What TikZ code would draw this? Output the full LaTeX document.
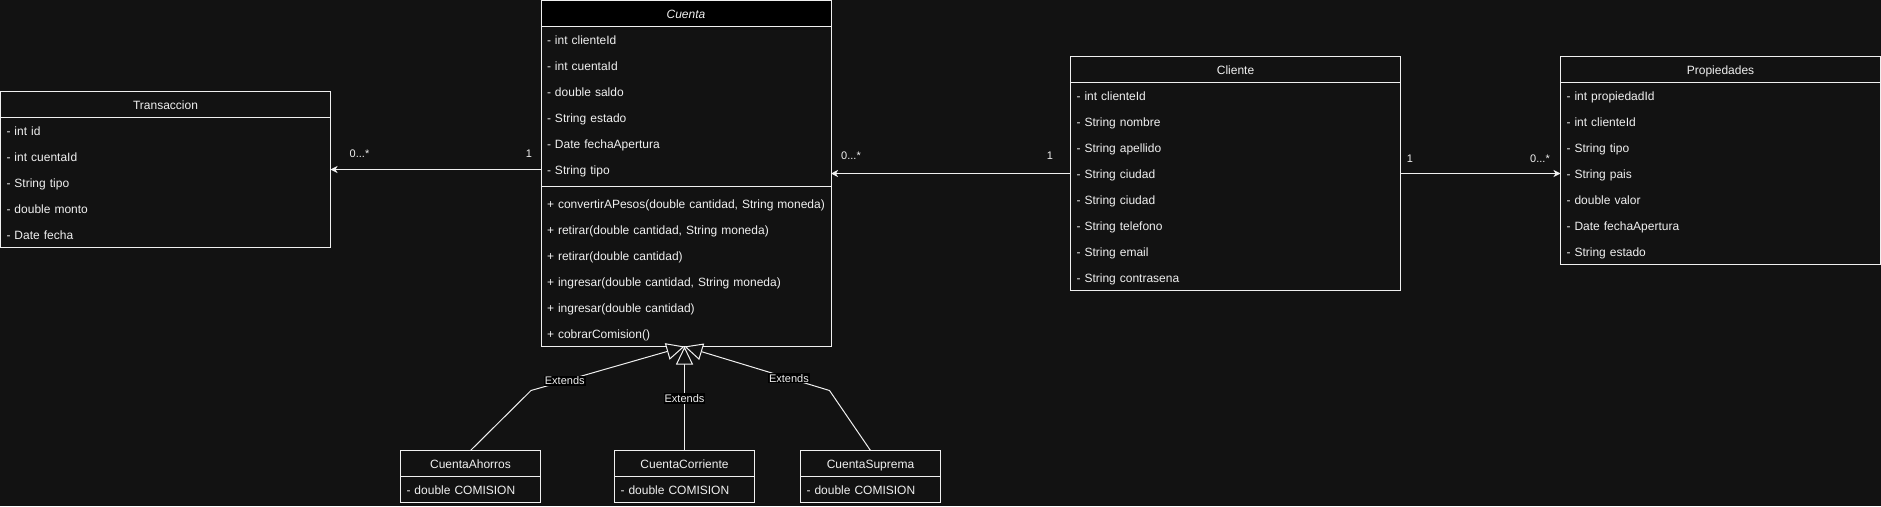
\documentclass[tikz,border=0pt]{standalone}
\usepackage{fontspec}
\setmainfont{Liberation Sans}
\usetikzlibrary{arrows.meta,calc}
\definecolor{bg}{HTML}{121212}
\definecolor{fg}{HTML}{F0F0F0}
\begin{document}
\begin{tikzpicture}[x=1pt,y=-1pt,
  every node/.style={outer sep=0pt, text=fg},
  hdr/.style={draw=fg, line width=1pt, anchor=north west, minimum height=26pt, inner sep=0pt,
    font=\fontsize{12}{14}\selectfont, text height=9.6pt, text depth=0pt},
  row/.style={anchor=north west, minimum height=26pt, inner xsep=6pt, inner ysep=0pt,
    text width=#1, align=left, font=\fontsize{12}{14}\selectfont, text height=9.6pt, text depth=0pt},
  sepr/.style={anchor=north west, minimum height=8pt, inner sep=0pt, minimum width=#1},
  body/.style={draw=fg, line width=1pt},
  assoc/.style={draw=fg, line width=1pt, -{Stealth[length=7pt,width=7pt,inset=2pt]}},
  gen/.style={draw=fg, line width=1pt, line join=miter, -{Triangle[length=18pt,width=17pt,fill=bg]}},
  ext/.style={fill=black, inner xsep=1pt, inner ysep=1pt, font=\fontsize{11}{13}\selectfont},
  mult/.style={font=\fontsize{11}{13}\selectfont, inner sep=0pt}
]
\fill[bg] (0,0) rectangle (1881,506);
\useasboundingbox (0,0) rectangle (1881,506);

% ---------- Transaccion ----------
\node[hdr, minimum width=330pt, fill=bg] (trans) at (0.5,91.5) {Transaccion};
\node[row=318pt] (t1) at (trans.south west) {- int id};
\node[row=318pt] (t2) at (t1.south west) {- int cuentaId};
\node[row=318pt] (t3) at (t2.south west) {- String tipo};
\node[row=318pt] (t4) at (t3.south west) {- double monto};
\node[row=318pt] (t5) at (t4.south west) {- Date fecha};
\draw[body] (trans.south west) rectangle (t5.south east);

% ---------- Cuenta ----------
\node[hdr, minimum width=290pt, fill=black] (cuenta) at (541,0.5) {\itshape Cuenta};
\node[row=278pt] (c1) at (cuenta.south west) {- int clienteId};
\node[row=278pt] (c2) at (c1.south west) {- int cuentaId};
\node[row=278pt] (c3) at (c2.south west) {- double saldo};
\node[row=278pt] (c4) at (c3.south west) {- String estado};
\node[row=278pt] (c5) at (c4.south west) {- Date fechaApertura};
\node[row=278pt] (c6) at (c5.south west) {- String tipo};
\node[sepr=290pt] (csep) at (c6.south west) {};
\node[row=278pt] (m1) at (csep.south west) {+ convertirAPesos(double cantidad, String moneda)};
\node[row=278pt] (m2) at (m1.south west) {+ retirar(double cantidad, String moneda)};
\node[row=278pt] (m3) at (m2.south west) {+ retirar(double cantidad)};
\node[row=278pt] (m4) at (m3.south west) {+ ingresar(double cantidad, String moneda)};
\node[row=278pt] (m5) at (m4.south west) {+ ingresar(double cantidad)};
\node[row=278pt] (m6) at (m5.south west) {+ cobrarComision()};
\draw[body] (cuenta.south west) rectangle (m6.south east);
\draw[body] (csep.west) -- (csep.east);

% ---------- Cliente ----------
\node[hdr, minimum width=330pt, fill=bg] (cliente) at (1070.5,56.5) {Cliente};
\node[row=318pt] (l1) at (cliente.south west) {- int clienteId};
\node[row=318pt] (l2) at (l1.south west) {- String nombre};
\node[row=318pt] (l3) at (l2.south west) {- String apellido};
\node[row=318pt] (l4) at (l3.south west) {- String ciudad};
\node[row=318pt] (l5) at (l4.south west) {- String ciudad};
\node[row=318pt] (l6) at (l5.south west) {- String telefono};
\node[row=318pt] (l7) at (l6.south west) {- String email};
\node[row=318pt] (l8) at (l7.south west) {- String contrasena};
\draw[body] (cliente.south west) rectangle (l8.south east);

% ---------- Propiedades ----------
\node[hdr, minimum width=320pt, fill=bg] (prop) at (1560.5,56.5) {Propiedades};
\node[row=308pt] (p1) at (prop.south west) {- int propiedadId};
\node[row=308pt] (p2) at (p1.south west) {- int clienteId};
\node[row=308pt] (p3) at (p2.south west) {- String tipo};
\node[row=308pt] (p4) at (p3.south west) {- String pais};
\node[row=308pt] (p5) at (p4.south west) {- double valor};
\node[row=308pt] (p6) at (p5.south west) {- Date fechaApertura};
\node[row=308pt] (p7) at (p6.south west) {- String estado};
\draw[body] (prop.south west) rectangle (p7.south east);

% ---------- Subclasses ----------
\node[hdr, minimum width=140pt, fill=bg] (cah) at (400.5,450.5) {CuentaAhorros};
\node[row=128pt] (cah1) at (cah.south west) {- double COMISION};
\draw[body] (cah.south west) rectangle (cah1.south east);

\node[hdr, minimum width=140pt, fill=bg] (cco) at (614.5,450.5) {CuentaCorriente};
\node[row=128pt] (cco1) at (cco.south west) {- double COMISION};
\draw[body] (cco.south west) rectangle (cco1.south east);

\node[hdr, minimum width=140pt, fill=bg] (csu) at (800.5,450.5) {CuentaSuprema};
\node[row=128pt] (csu1) at (csu.south west) {- double COMISION};
\draw[body] (csu.south west) rectangle (csu1.south east);

% ---------- Associations ----------
\draw[assoc] (c6.west) -- (c6.west -| trans.east);
\node[mult] (mt1) at ($(c6.west)+(-12,-15.5)$) {1};
\node[mult] (mt2) at ($(c6.west -| trans.east)+(29,-15.5)$) {0...*};

\draw[assoc] (l4.west) -- (l4.west -| cuenta.east);
\node[mult] (mc1) at ($(l4.west)+(-20.5,-18)$) {1};
\node[mult] (mc2) at ($(l4.west -| cuenta.east)+(20,-18)$) {0...*};

\draw[assoc] (l4.east) -- (p4.west);
\node[mult] (mp1) at ($(l4.east)+(9.5,-14.5)$) {1};
\node[mult] (mp2) at ($(p4.west)+(-20.5,-14.5)$) {0...*};

% ---------- Generalizations ----------
\coordinate (tip) at (cco.north |- m6.south);
\coordinate (wa) at (531,390.5);
\coordinate (ws) at (829.5,390.5);
\draw[gen] (cah.north) -- (wa) -- node[ext, pos=0.22] (ea) {Extends} (tip);
\draw[gen] (cco.north) -- node[ext, pos=0.5] (ec) {Extends} (tip);
\draw[gen] (csu.north) -- (ws) -- node[ext, pos=0.28] (es) {Extends} (tip);
\end{tikzpicture}
\end{document}
